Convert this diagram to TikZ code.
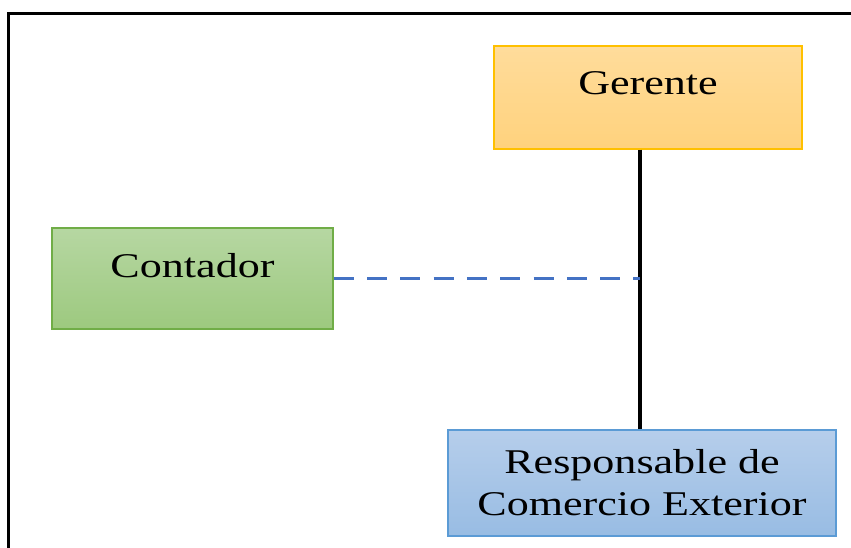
\documentclass[tikz,border=0pt]{standalone}
\usepackage{fontspec}
\setmainfont{Liberation Serif}[FakeStretch=1.27]
\begin{document}
\begin{tikzpicture}[x=1pt,y=1pt,
  orgbox/.style={draw, line width=1.4pt, rectangle, inner sep=0pt,
    font=\fontsize{34.7}{44}\selectfont, text=black},
  gerbox/.style={orgbox, draw={rgb,255:red,255;green,192;blue,0},
    top color={rgb,255:red,255;green,220;blue,155},
    bottom color={rgb,255:red,255;green,210;blue,125}},
  conbox/.style={orgbox, draw={rgb,255:red,112;green,173;blue,71},
    top color={rgb,255:red,182;green,215;blue,162},
    bottom color={rgb,255:red,157;green,201;blue,127}},
  resbox/.style={orgbox, draw={rgb,255:red,91;green,155;blue,213},
    top color={rgb,255:red,182;green,206;blue,235},
    bottom color={rgb,255:red,152;green,188;blue,227}},
  solidlink/.style={draw=black, line width=3.8pt},
  dashlink/.style={draw={rgb,255:red,68;green,114;blue,196}, line width=3.6pt,
    dash pattern=on 20pt off 13.3pt}
]
\useasboundingbox (0,0) rectangle (851,548);
\clip (0,0) rectangle (851,548);

% outer frame, running past the right and bottom edges
\draw[line width=3pt] (8,-20) -- (8,534) -- (880,534);

% boxes
\node[gerbox, minimum width=308pt, minimum height=103pt,
      text height=24pt, text depth=29pt] (ger) at (648,450.5) {Gerente};
\node[conbox, minimum width=281pt, minimum height=101pt,
      text height=24pt, text depth=25pt] (con) at (192.5,269.5) {Contador};
\node[resbox, minimum width=388pt, minimum height=106pt, align=center]
      (res) at (642,65) {Responsable de\\[-2pt]Comercio Exterior};

% connectors
\coordinate (top) at ([xshift=-8pt]ger.south);
\coordinate (bot) at (top |- res.north);
\coordinate (mid) at (top |- con.east);
\draw[solidlink] (top) -- (bot);
\draw[dashlink] (con.east) -- (mid);
\end{tikzpicture}
\end{document}
